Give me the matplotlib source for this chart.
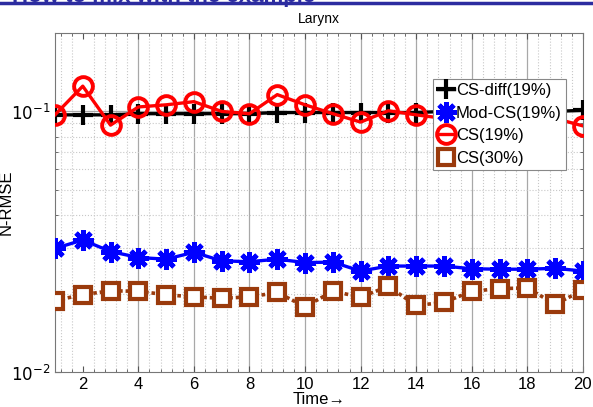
import numpy as np
import matplotlib
matplotlib.use("Agg")
import matplotlib.pyplot as plt
from matplotlib.ticker import FixedLocator, MultipleLocator, NullFormatter

plt.rcParams['font.family'] = ['Liberation Sans', 'DejaVu Sans']

# --- data ---
time = np.arange(1, 21)
cs_diff = [0.097, 0.097, 0.097, 0.098, 0.098, 0.098, 0.098, 0.098, 0.099, 0.099,
           0.099, 0.099, 0.099, 0.099, 0.100, 0.100, 0.100, 0.100, 0.100, 0.101]
mod_cs = [0.0298, 0.0321, 0.0290, 0.0275, 0.0271, 0.0288, 0.0267, 0.0265, 0.0271, 0.0263,
          0.0264, 0.0244, 0.0255, 0.0255, 0.0255, 0.0249, 0.0248, 0.0248, 0.0250, 0.0244]
cs19 = [0.097, 0.125, 0.0886, 0.104, 0.106, 0.109, 0.100, 0.098, 0.116, 0.106,
        0.098, 0.091, 0.1006, 0.097, 0.094, 0.095, 0.096, 0.095, 0.094, 0.088]
cs30 = [0.0188, 0.0198, 0.0205, 0.0204, 0.0198, 0.0194, 0.0192, 0.0194, 0.0202, 0.0178,
        0.0204, 0.0194, 0.0213, 0.0180, 0.0185, 0.0204, 0.0209, 0.0210, 0.0182, 0.0206]
labels = ['CS-diff(19%)', 'Mod-CS(19%)', 'CS(19%)', 'CS(30%)']

fig = plt.figure(figsize=(5.93, 4.07), dpi=100)
ax = fig.add_axes([0.0927, 0.086, 0.983 - 0.0927, 0.919 - 0.086])

brown = '#9a3a0c'
ax.plot(time, cs_diff, color='black', lw=2.4, marker='+', ms=14, mew=3, label=labels[0], zorder=3)
ax.plot(time, mod_cs, color='#0000ff', lw=2.4, marker=(8, 2, 0), ms=15, mew=3.4, label=labels[1], zorder=3)
ax.plot(time, cs19, color='#ff0000', lw=2.4, marker='o', ms=13.5, mew=2.8, mfc='none', label=labels[2], zorder=4)
ax.plot(time, cs30, color=brown, lw=2.6, ls=(0, (1, 0.8)), marker='s', ms=11, mew=3, mfc='white',
        label=labels[3], zorder=3)

ax.set_yscale('log')
ax.set_xlim(1, 20)
ax.set_ylim(0.01, 0.2)
ax.set_xticks(np.arange(2, 21, 2))
ax.xaxis.set_minor_locator(MultipleLocator(0.4))
ax.set_yticks([0.01, 0.1])
ax.set_yticklabels([r'$10^{-2}$', r'$10^{-1}$'])
ax.yaxis.set_minor_locator(FixedLocator([0.02, 0.03, 0.04, 0.05, 0.06, 0.07, 0.08, 0.09]))
ax.yaxis.set_minor_formatter(NullFormatter())
ax.tick_params(which='both', direction='in', top=True, right=True, labelsize=12, color='#555555')
ax.tick_params(which='minor', length=2)
ax.tick_params(which='major', length=4)

# grid: solid major verticals, dotted minor lines
for xv in np.arange(4, 20, 2):
    ax.axvline(xv, color='#a8a8a8', lw=0.9, zorder=1)
ax.axhline(0.1, color='#a8a8a8', lw=0.9, zorder=1)
ax.grid(which='minor', axis='both', color='#c8c8c8', ls=':', lw=0.8, zorder=0)
for s in ax.spines.values():
    s.set_color('#777777')

ax.set_title('Larynx', fontsize=10, pad=7)
ax.set_ylabel('N-RMSE', fontsize=12)
ax.yaxis.set_label_coords(-0.078, 0.5)
ax.set_xlabel('Time\u2192', fontsize=12, labelpad=0)

leg = ax.legend(loc='upper right', bbox_to_anchor=(0.9545, 0.806), bbox_transform=fig.transFigure,
                fontsize=12, handlelength=1.0, handletextpad=0.1, borderpad=0.25, labelspacing=0.45,
                frameon=True, fancybox=False, framealpha=1, edgecolor='#888888', borderaxespad=0)
leg.get_frame().set_linewidth(0.8)

# clipped slide header at the very top
fig.text(0.02, 1.009, 'How to mix with the example', color='#2c2ca0', fontsize=16,
         fontweight='bold', va='center', ha='left')
fig.add_artist(plt.Line2D([0, 1], [0.992, 0.992], transform=fig.transFigure, color='#2c2ca0', lw=2.5))

fig.savefig('out.png', dpi=100)
